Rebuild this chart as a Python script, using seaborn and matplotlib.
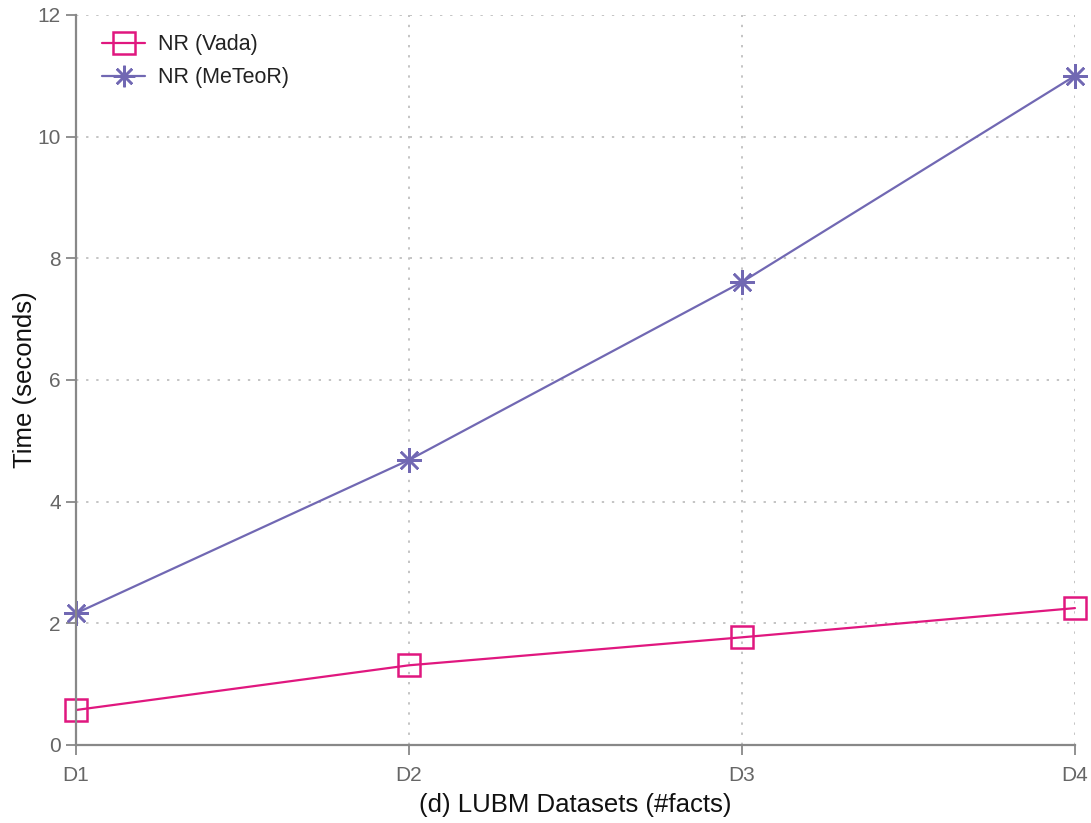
import matplotlib
matplotlib.use("Agg")
import matplotlib.pyplot as plt
import seaborn as sns
import pandas as pd

datasets = ["D1", "D2", "D3", "D4"]
vada = [0.575, 1.31, 1.77, 2.25]
meteor = [2.165, 4.685, 7.61, 11.0]
series_names = ["NR (Vada)", "NR (MeTeoR)"]
colors = ["#e0177f", "#7168b3"]
markers = ["s", (8, 2, 0)]

sns.set_theme(style="white")
plt.rcParams['font.family'] = ['Liberation Sans', 'DejaVu Sans']

fig = plt.figure(figsize=(10.91, 8.23), dpi=100)
ax = fig.add_axes([0.0697, 0.0948, 0.9156, 0.887])

for name, vals, c, m in zip(series_names, [vada, meteor], colors, markers):
    d = pd.DataFrame({"x": list(range(len(datasets))), "y": vals})
    sns.lineplot(data=d, x="x", y="y", ax=ax, color=c, linewidth=1.6,
                 marker=m, markersize=15.5 if m == "s" else 17.5,
                 markerfacecolor="none", markeredgecolor=c, markeredgewidth=1.8,
                 clip_on=False, label=name)

for line in ax.lines:
    line.set_clip_on(False)

ax.set_xlim(0, 3)
ax.set_ylim(0, 12)
ax.set_xticks(range(len(datasets)))
ax.set_xticklabels(datasets)
ax.set_yticks([0, 2, 4, 6, 8, 10, 12])

ax.grid(True, linestyle=(0, (1.2, 4)), color="#c4c4c4", linewidth=1.4)
for s in ["top", "right"]:
    ax.spines[s].set_visible(False)
for s in ["left", "bottom"]:
    ax.spines[s].set_color("#888888")
    ax.spines[s].set_linewidth(1.6)

ax.tick_params(axis="both", colors="#888888", labelcolor="#666666", labelsize=15,
               direction="out", length=7, width=1.3, left=True, bottom=True)
ax.tick_params(axis="x", pad=8)
ax.tick_params(axis="y", pad=4)

ax.set_xlabel("(d) LUBM Datasets (#facts)", fontsize=18.5, color="#111111", labelpad=6)
ax.set_ylabel("Time (seconds)", fontsize=18.5, color="#111111")
ax.yaxis.set_label_coords(-0.039, 0.5)

leg = ax.legend(loc="upper left", frameon=False, fontsize=15.5, bbox_to_anchor=(0.007, 1.0),
                handlelength=2.0, handletextpad=0.6, labelspacing=0.55)
for t in leg.get_texts():
    t.set_color("#222222")
for h in leg.legend_handles:
    h.set_markersize(15.5)

fig.savefig("out.png", dpi=100)
